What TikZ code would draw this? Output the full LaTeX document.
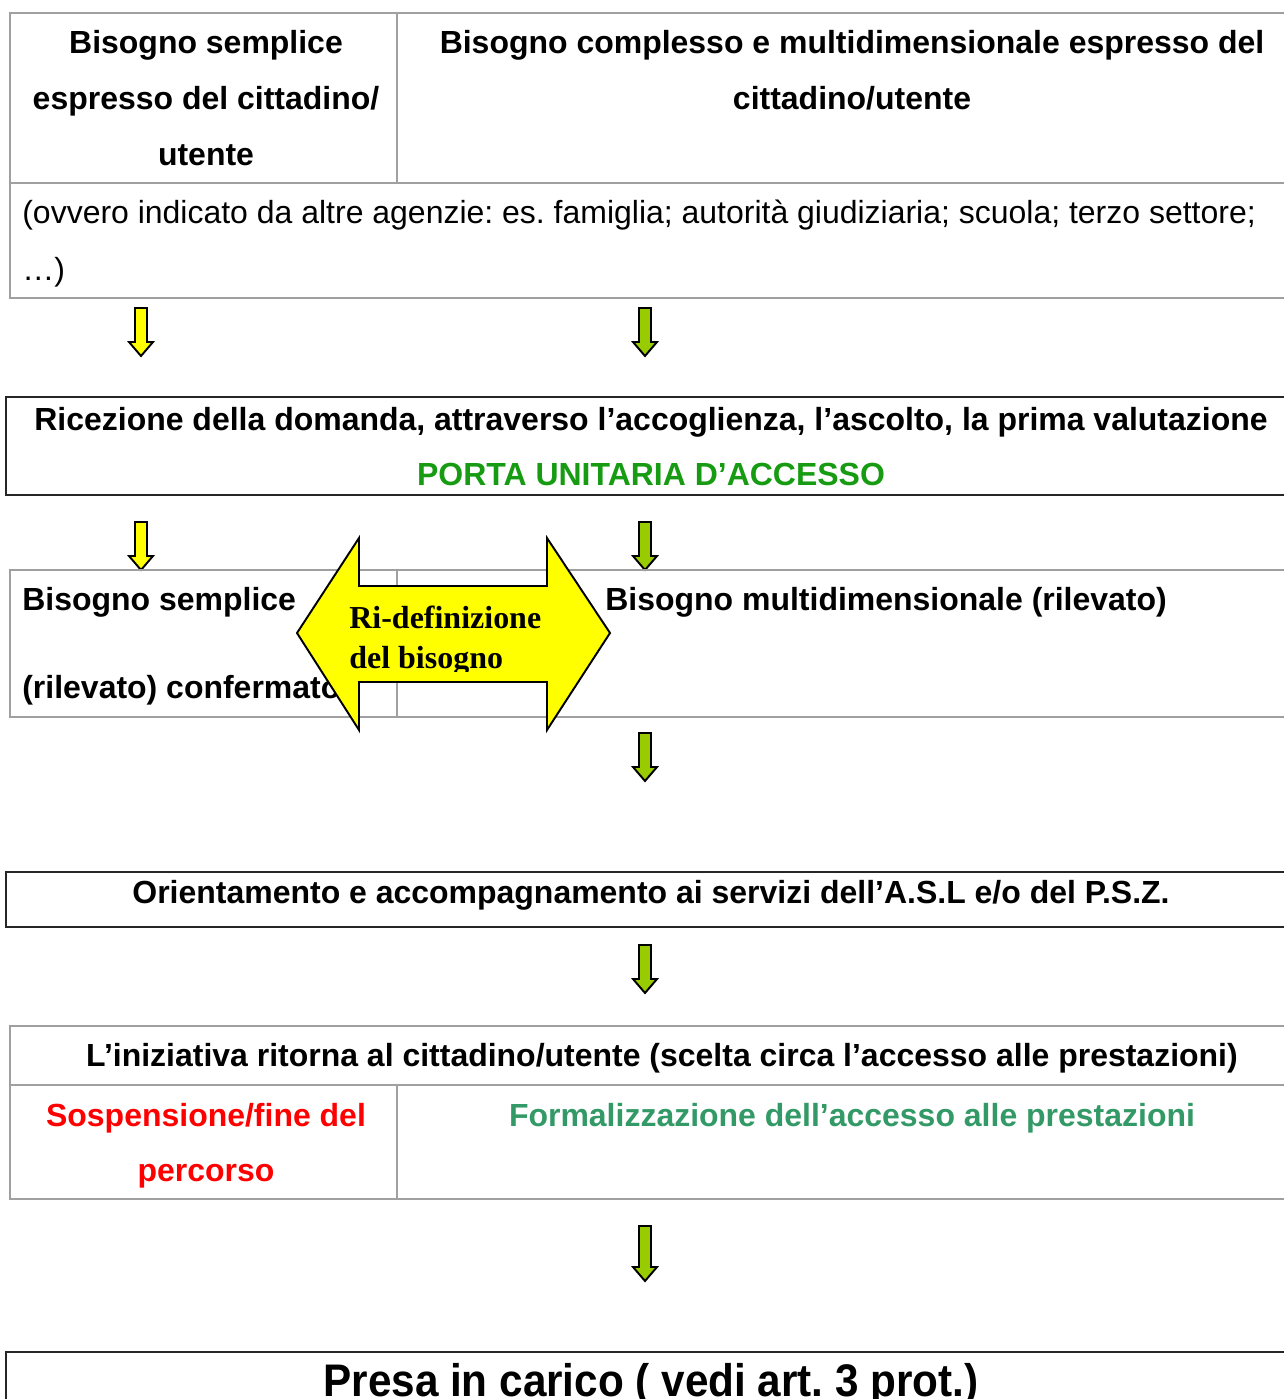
\documentclass[tikz,border=0pt]{standalone}
\usepackage{fontspec}
\setmainfont{Liberation Sans}
\newfontfamily\timesfont{Liberation Serif}
\usetikzlibrary{positioning}
\frenchspacing
\definecolor{GrigioLinea}  {HTML}{A0A0A0}
\definecolor{GialloFreccia}{HTML}{FFFF00}
\definecolor{VerdeFreccia} {HTML}{99CC00}
\definecolor{VerdePorta}   {HTML}{169B12}
\definecolor{VerdeForm}    {HTML}{339966}
\definecolor{RossoTesto}   {HTML}{FF0000}

% freccia in giu: x, y in alto, lunghezza, colore
\newcommand{\frecciagiu}[4]{%
  \filldraw[fill=#4,draw=black,line width=1.1pt,line join=miter]
    (#1-6,#2) -- (#1+6,#2) -- (#1+6,#2+#3-14) -- (#1+12,#2+#3-14)
    -- (#1,#2+#3) -- (#1-12,#2+#3-14) -- (#1-6,#2+#3-14) -- cycle;}

\tikzset{
  griglia/.style={draw=GrigioLinea,line width=0.9pt},
  riquadro/.style={draw=black!85,line width=0.9pt},
  testo/.style={inner sep=0pt,font=\fontsize{18.2}{21}\bfseries\selectfont},
  testonorm/.style={inner sep=0pt,font=\fontsize{18.2}{21}\selectfont}
}

\begin{document}
\begin{tikzpicture}[x=0.02cm,y=-0.02cm]
  \useasboundingbox (0,0) rectangle (1284,1399);

  % tabella iniziale
  \draw[griglia] (1300,13) -- (10,13) -- (10,298) -- (1300,298);
  \draw[griglia] (10,183) -- (1300,183);
  \draw[griglia] (397,13) -- (397,183);
  \node[testo,anchor=base] (sempl1) at (206,54)  {Bisogno semplice};
  \node[testo,anchor=base] (sempl2) at (206,110) {espresso del cittadino/};
  \node[testo,anchor=base] (sempl3) at (206,165) {utente};
  \node[testo,anchor=base] (compl1) at (852,54)  {Bisogno complesso e multidimensionale espresso del};
  \node[testo,anchor=base] (compl2) at (852,110) {cittadino/utente};
  \node[testonorm,anchor=base west] (ovvero1) at (22,223)
    {(ovvero indicato da altre agenzie: es. famiglia; autorità giudiziaria; scuola; terzo settore;};
  \node[testonorm,anchor=base west] (ovvero2) at (22,280) {…)};

  \frecciagiu{141}{308}{48}{GialloFreccia}
  \frecciagiu{645}{308}{48}{VerdeFreccia}

  % porta unitaria
  \draw[riquadro] (1300,397) -- (6,397) -- (6,495) -- (1300,495);
  \node[testo,anchor=base] (ricezione) at (651,430)
    {Ricezione della domanda, attraverso l’accoglienza, l’ascolto, la prima valutazione};
  \node[testo,anchor=base,text=VerdePorta] (porta) at (651,485) {PORTA UNITARIA D’ACCESSO};

  \frecciagiu{141}{522}{48}{GialloFreccia}
  \frecciagiu{645}{522}{48}{VerdeFreccia}

  % bisogno rilevato
  \draw[griglia] (1300,570) -- (10,570) -- (10,717) -- (1300,717);
  \draw[griglia] (397,570) -- (397,717);
  \node[testo,anchor=base west] (rilev1) at (22,610) {Bisogno semplice};
  \node[testo,anchor=base west] (rilev2) at (22,698) {(rilevato) confermato};
  \node[testo,anchor=base west] (multi) at (605,610) {Bisogno multidimensionale (rilevato)};

  % ri-definizione
  \filldraw[fill=GialloFreccia,draw=black,line width=1.1pt,line join=miter]
    (297,633) -- (359,538) -- (359,586) -- (547,586) -- (547,538) -- (610,633)
    -- (547,730) -- (547,682) -- (359,682) -- (359,730) -- cycle;
  \begin{scope}
    \clip (340,590) rectangle (560,671);
    \node[inner sep=0pt,anchor=base west,font=\timesfont\fontsize{18.2}{21}\bfseries\selectfont]
      (ridef1) at (349,628) {Ri-definizione};
    \node[inner sep=0pt,anchor=base west,font=\timesfont\fontsize{18.2}{21}\bfseries\selectfont]
      (ridef2) at (349,668) {del bisogno};
  \end{scope}

  \frecciagiu{645}{733}{48}{VerdeFreccia}

  % orientamento
  \draw[riquadro] (1300,872) -- (6,872) -- (6,927) -- (1300,927);
  \node[testo,anchor=base] (orient) at (651,903)
    {Orientamento e accompagnamento ai servizi dell’A.S.L e/o del P.S.Z.};

  \frecciagiu{645}{945}{48}{VerdeFreccia}

  % scelta del cittadino
  \draw[griglia] (1300,1026) -- (10,1026) -- (10,1199) -- (1300,1199);
  \draw[griglia] (10,1085) -- (1300,1085);
  \draw[griglia] (397,1085) -- (397,1199);
  \node[testo,anchor=base] (iniziativa) at (662,1066)
    {L’iniziativa ritorna al cittadino/utente (scelta circa l’accesso alle prestazioni)};
  \node[testo,anchor=base,text=RossoTesto] (sosp1) at (206,1126) {Sospensione/fine del};
  \node[testo,anchor=base,text=RossoTesto] (sosp2) at (206,1181) {percorso};
  \node[testo,anchor=base,text=VerdeForm] (formal) at (852,1126)
    {Formalizzazione dell’accesso alle prestazioni};

  \frecciagiu{645}{1226}{55}{VerdeFreccia}

  % presa in carico
  \draw[riquadro] (1300,1352) -- (6,1352) -- (6,1420);
  \node[inner sep=0pt,anchor=base,font=\fontsize{26}{30}\bfseries\selectfont,xscale=0.925]
    (presa) at (651,1396) {Presa in carico ( vedi art. 3 prot.)};
\end{tikzpicture}
\end{document}
